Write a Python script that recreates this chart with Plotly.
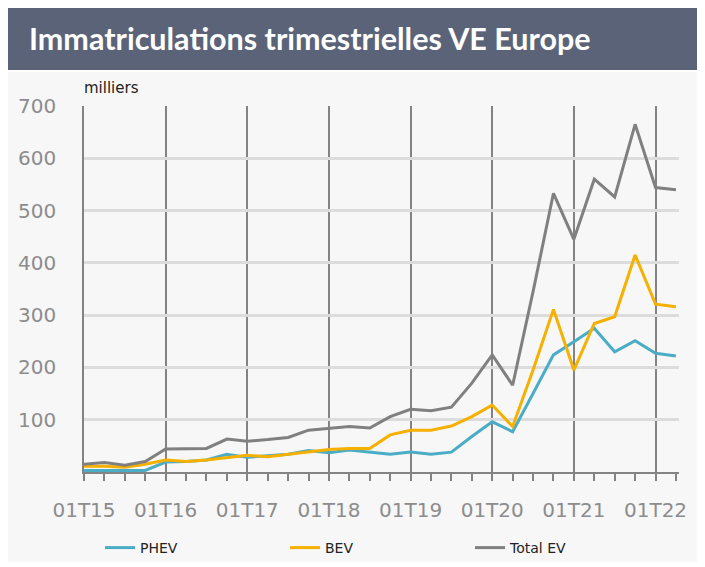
import plotly.graph_objects as go

# trimestres 01T15 .. 02T22
quarters = [f"0{q}T{y}" for y in range(15, 23) for q in range(1, 5)][:30]
year_labels = ["01T15", "01T16", "01T17", "01T18", "01T19", "01T20", "01T21", "01T22"]

phev = [3, 3, 3, 3, 19, 20, 23, 34, 28, 31, 34, 41, 37, 42, 38, 34, 38, 34, 38, 68,
        96, 77, 150, 224, 249, 275, 230, 251, 227, 222]
bev = [11, 11, 9, 15, 23, 20, 23, 27, 32, 29, 34, 39, 43, 45, 45, 71, 80, 80, 88, 106,
       128, 87, 195, 311, 195, 284, 297, 415, 321, 316]
total_ev = [15, 18, 13, 20, 44, 45, 45, 63, 59, 62, 66, 80, 83, 87, 84, 106, 120, 117, 124, 170,
            224, 166, 345, 533, 445, 560, 526, 665, 544, 540]

x = list(range(len(quarters)))

fig = go.Figure()
fig.add_trace(go.Scatter(x=x, y=phev, name="PHEV", mode="lines",
                         line=dict(color="#4bacc6", width=3)))
fig.add_trace(go.Scatter(x=x, y=bev, name="BEV", mode="lines",
                         line=dict(color="#f5b000", width=3)))
fig.add_trace(go.Scatter(x=x, y=total_ev, name="Total EV", mode="lines",
                         line=dict(color="#808080", width=3)))

OFF = 8  # marge du body de la page
W, H = 705 - OFF, 567 - OFF
L, R, T, B = 84 - OFF, 26, 106 - OFF, 95
pw, ph = W - L - R, H - T - B


def px(v):  # pixel page -> paper x
    return (v - OFF - L) / pw


def py(v):  # pixel page -> paper y
    return (H - B - (v - OFF)) / ph


fig.update_layout(
    width=W, height=H,
    margin=dict(l=L, r=R, t=T, b=B, autoexpand=False),
    paper_bgcolor="white",
    plot_bgcolor="rgba(0,0,0,0)",
    font=dict(family="DejaVu Sans", color="#808080"),
    showlegend=True,
    legend=dict(orientation="h", xref="container", yref="container",
                x=(100 - OFF) / W, y=(H - (548 - OFF)) / H,
                xanchor="left", yanchor="middle",
                font=dict(size=14, color="#222222"), entrywidth=140,
                bgcolor="rgba(0,0,0,0)"),
    shapes=[
        # fond gris clair
        dict(type="rect", xref="paper", yref="paper", layer="below",
             x0=px(8), x1=px(700), y0=py(562), y1=py(72),
             fillcolor="#f7f7f7", line=dict(width=0)),
        # bandeau titre
        dict(type="rect", xref="paper", yref="paper", layer="below",
             x0=px(8), x1=px(705), y0=py(70), y1=py(8),
             fillcolor="#5b6378", line=dict(width=0)),
    ],
    annotations=[
        dict(text="<b>Immatriculations trimestrielles VE Europe</b>", xref="paper", yref="paper",
             x=px(27), y=py(38), xanchor="left", yanchor="middle", showarrow=False,
             font=dict(family="Lato", size=30.5, color="white")),
        dict(text="milliers", xref="paper", yref="paper", x=px(82), y=py(88),
             xanchor="left", yanchor="middle", showarrow=False,
             font=dict(family="DejaVu Sans", size=15, color="#222222")),
    ],
)

fig.update_xaxes(
    range=[0, 29.15],
    tickvals=x[::4], ticktext=year_labels,
    tickfont=dict(size=20, color="#8c8c8c"),
    showgrid=True, gridcolor="#838383", gridwidth=1.5,
    showline=True, linecolor="#838383", linewidth=1.5,
    ticks="outside", ticklen=7, tickcolor="#838383", tickwidth=1.5,
    minor=dict(dtick=1, ticks="outside", ticklen=7, tickcolor="#838383", tickwidth=1.5,
               showgrid=False),
    ticklabelstandoff=12,
    zeroline=False,
)
fig.update_yaxes(
    range=[0, 700],
    tickvals=[100, 200, 300, 400, 500, 600, 700],
    tickfont=dict(size=20, color="#8c8c8c"),
    showgrid=True, gridcolor="#dcdcdc", gridwidth=2.5,
    showline=True, linecolor="#838383", linewidth=1.5, zeroline=False,
    ticks="outside", ticklen=22, tickcolor="rgba(0,0,0,0)",
)

fig.write_html("out.html")
